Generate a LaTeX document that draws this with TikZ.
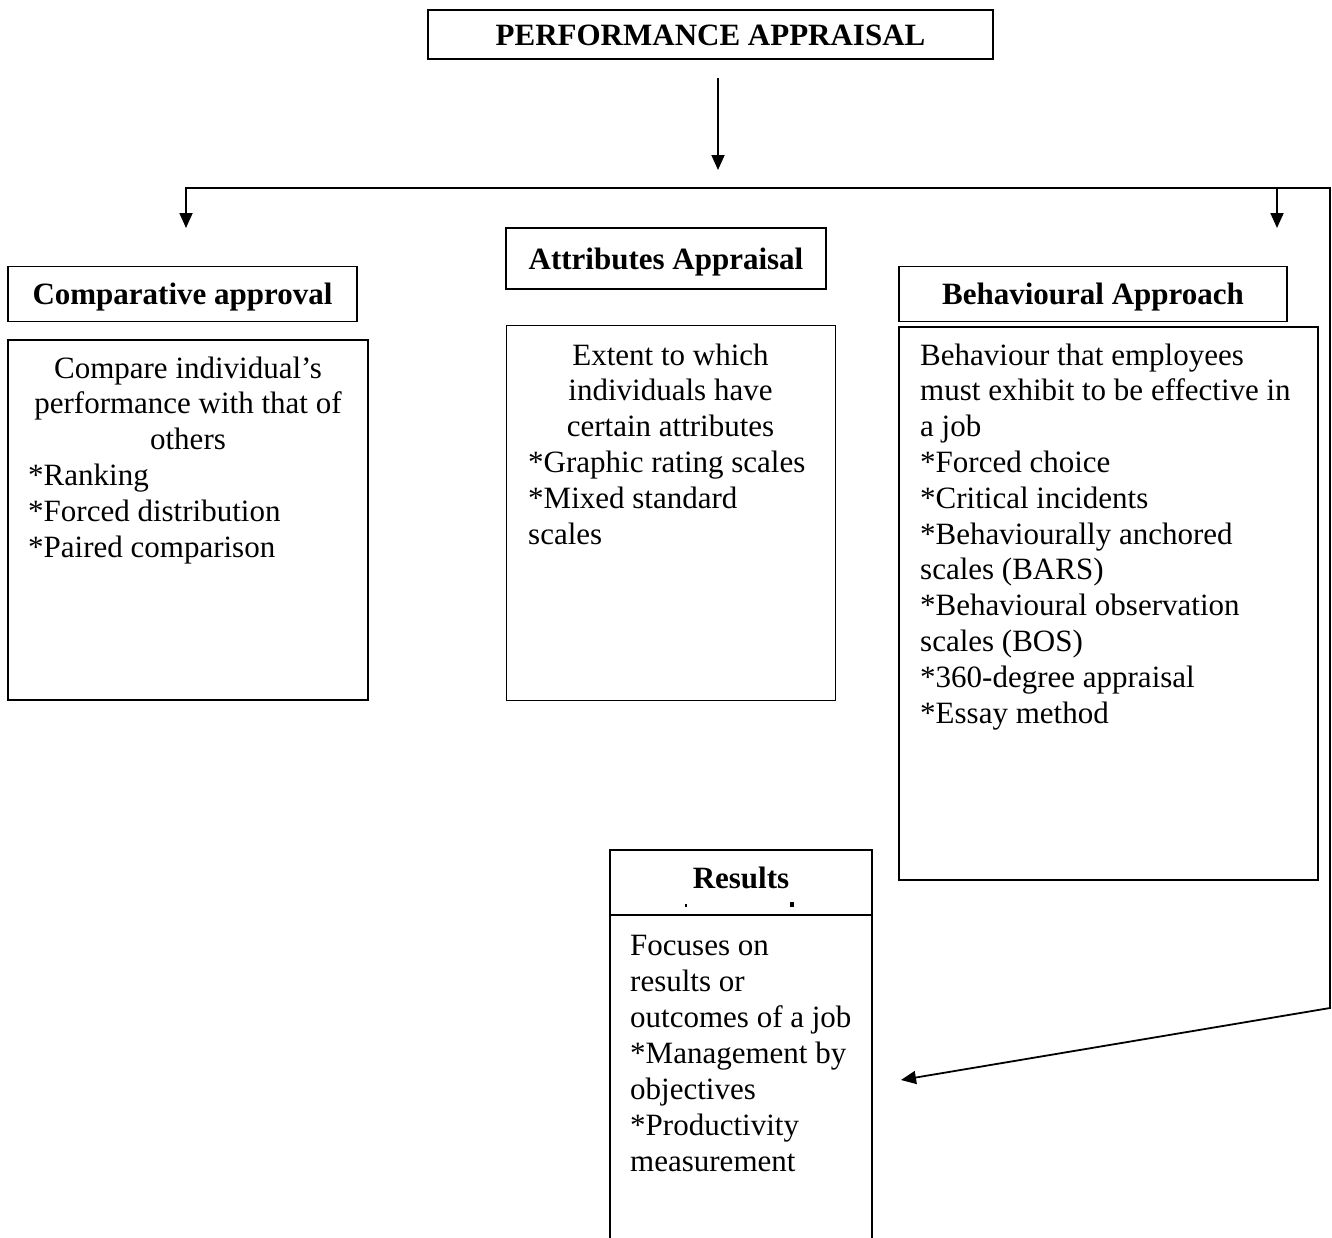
\documentclass[tikz,border=0pt]{standalone}
\usepackage{fontspec}
\setmainfont{Liberation Serif}
\usetikzlibrary{arrows.meta}
\begin{document}
\begin{tikzpicture}[x=1pt,y=-1pt,
  box/.style={draw, line width=1.4pt, inner sep=0pt},
  ttl/.style={box, font=\fontsize{31}{36}\selectfont\bfseries, text height=21pt, text depth=0pt},
  txt/.style={inner sep=0pt, font=\fontsize{31}{36}\selectfont},
  conn/.style={line width=1.8pt},
  tip/.tip={Triangle[width=13pt,length=15pt]},
  arr/.style={conn, -tip}]
\useasboundingbox (0,0) rectangle (1332,1237);
\clip (0,0) rectangle (1332,1237);

% title boxes
\node[ttl, minimum width=565pt, minimum height=49pt] (pa) at (710.5,34.5) {PERFORMANCE APPRAISAL};
\node[ttl, minimum width=349pt, minimum height=55pt] (cmpT) at (182.5,294) {Comparative approval};
\node[ttl, minimum width=320pt, minimum height=61pt] (attT) at (666,258.5) {Attributes Appraisal};
\node[ttl, minimum width=388pt, minimum height=55pt] (behT) at (1093,294) {Behavioural Approach};
\node[ttl, minimum width=262pt, minimum height=65pt, text depth=10pt] (resT) at (741,882.5) {Results};

% body boxes
\node[box, minimum width=360pt, minimum height=360pt] (cmpB) at (188,520) {};
\node[box, minimum width=329pt, minimum height=375pt] (attB) at (671,513) {};
\node[box, minimum width=419pt, minimum height=553pt] (behB) at (1108.5,603.5) {};
\node[box, minimum width=262pt, minimum height=345pt] (resB) at (741,1087.5) {};

% small marks under Results
\fill (684.5,904) rectangle (686.5,906.5);
\fill (790,902) rectangle (794,907);

% comparative text
\foreach \t [count=\i from 0] in {{Compare individual’s},{performance with that of},{others}}
  \node[txt, anchor=base] (cmpC\i) at (188,378+\i*35.8) {\t};
\foreach \t [count=\i from 3] in {{*Ranking},{*Forced distribution},{*Paired comparison}}
  \node[txt, anchor=base west] (cmpL\i) at (28,378+\i*35.8) {\t};

% attributes text
\foreach \t [count=\i from 0] in {{Extent to which},{individuals have},{certain attributes}}
  \node[txt, anchor=base] (attC\i) at (670.5,365+\i*35.8) {\t};
\foreach \t [count=\i from 3] in {{*Graphic rating scales},{*Mixed standard},{scales}}
  \node[txt, anchor=base west] (attL\i) at (528,365+\i*35.8) {\t};

% behavioural text
\foreach \t [count=\i from 0] in {{Behaviour that employees},{must exhibit to be effective in},{a job},{*Forced choice},{*Critical incidents},{*Behaviourally anchored},{scales (BARS)},{*Behavioural observation},{scales (BOS)},{*360-degree appraisal},{*Essay method}}
  \node[txt, anchor=base west] (behL\i) at (920,365+\i*35.8) {\t};

% results text
\foreach \t [count=\i from 0] in {{Focuses on},{results or},{outcomes of a job},{*Management by},{objectives},{*Productivity},{measurement}}
  \node[txt, anchor=base west] (resL\i) at (630,955+\i*36) {\t};

% connectors
\coordinate (paS) at (718,78);
\coordinate (paE) at (718,170);
\coordinate (cmpTip) at (186,228);
\coordinate (busL) at (186,188);
\coordinate (busR) at (1330,188);
\coordinate (bend) at (1330,1008);
\coordinate (resTip) at (901,1080);
\coordinate (behTop) at (1277,188);
\coordinate (behTip) at (1277,228);

\draw[arr] (paS) -- (paE);
\draw[conn, tip-tip] (cmpTip) -- (busL) -- (busR) -- (bend) -- (resTip);
\draw[arr] (behTop) -- (behTip);
\end{tikzpicture}
\end{document}
